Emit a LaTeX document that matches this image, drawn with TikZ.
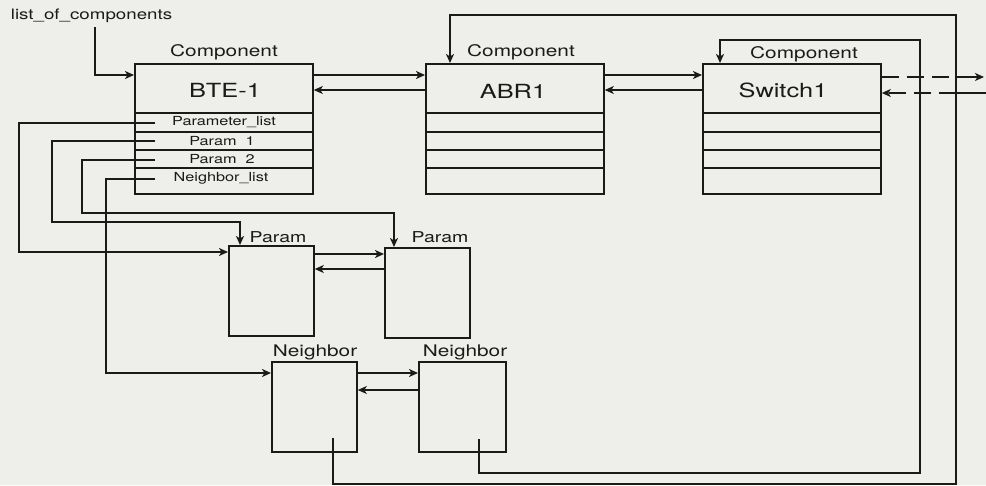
\documentclass[tikz,border=0pt]{standalone}
\usepackage{fontspec}
\setmainfont{TeX Gyre Heros}[FakeStretch=1.3]
\usetikzlibrary{arrows.meta}
\definecolor{bgcol}{HTML}{EEEEEB}
\definecolor{ink}{HTML}{1A1A1A}
\begin{document}
\begin{tikzpicture}[x=1pt,y=-1pt,line width=1.8pt,draw=ink,
  arr/.style={-{Stealth[length=9pt,width=8pt,inset=2.5pt]}},
  box/.style={draw=ink,inner sep=0pt,anchor=north west},
  cbox/.style={box,minimum width=178pt,minimum height=130pt},
  pbox/.style={box,minimum width=85pt,minimum height=90pt},
  lbl/.style={inner sep=0pt,text=ink},
  comptxt/.style={lbl,font=\fontsize{16}{18}\selectfont},
  titletxt/.style={lbl,font=\fontsize{19.5}{22}\selectfont},
  rowtxt/.style={lbl,font=\fontsize{12.5}{14}\selectfont},
  partxt/.style={lbl,font=\fontsize{15}{17}\selectfont},
  neitxt/.style={lbl,font=\fontsize{16}{18}\selectfont},
  dsh/.style={dash pattern=on 17pt off 8pt}]
\fill[bgcol] (0,0) rectangle (986,485);
\useasboundingbox (0,0) rectangle (986,485);

% component boxes
\node[cbox] (bte) at (134,63) {};
\node[cbox] (abr) at (425,63) {};
\node[cbox] (sw) at (702,63) {};
\foreach \xa/\xb in {134/312,425/603,702/880}{
  \foreach \yy in {113,132,150,168}{
    \draw (\xa,\yy) -- (\xb,\yy);
  }
}
\node[comptxt] (c1) at (224,52) {Component};
\node[comptxt] (c2) at (521,52) {Component};
\node[comptxt] (c3) at (804,54) {Component};
\node[titletxt] (t1) at (225,90) {BTE-1};
\node[titletxt] (t2) at (513,91) {ABR1};
\node[titletxt] (t3) at (783,90) {Switch1};
\node[rowtxt] (r1) at (224,122) {Parameter\_list};
\node[rowtxt] (r2) at (222,141) {Param\ \ 1};
\node[rowtxt] (r3) at (222,159) {Param\ \ 2};
\node[rowtxt] (r4) at (221,178) {Neighbor\_list};

% param and neighbor boxes
\node[pbox] (p1) at (228,245) {};
\node[pbox] (p2) at (384,247) {};
\node[pbox] (n1) at (271,361) {};
\node[pbox,minimum width=87pt] (n2) at (418,361) {};
\node[partxt] (pl1) at (278,237) {Param};
\node[partxt] (pl2) at (440,237) {Param};
\node[neitxt] (nl1) at (315,352) {Neighbor};
\node[neitxt] (nl2) at (465,352) {Neighbor};

% list_of_components
\node[lbl,font=\fontsize{14.4}{16}\selectfont,anchor=west] (loc) at (10,16) {list\_of\_components};
\coordinate (locs) at (95,27);
\draw[arr] (locs) |- (bte.west |- 0,75);

% component chain
\draw[arr] (bte.east |- 0,75) -- (abr.west |- 0,75);
\draw[arr] (abr.west |- 0,90) -- (bte.east |- 0,90);
\draw[arr] (abr.east |- 0,75) -- (sw.west |- 0,75);
\draw[arr] (sw.west |- 0,90) -- (abr.east |- 0,90);

% to the right
\coordinate (vo1) at (956,77);
\coordinate (vo2) at (956,93);
\coordinate (outA) at (984,77);
\coordinate (outB) at (986,93);
\draw[dsh] (sw.east |- 0,77) -- (vo1);
\draw[arr] (vo1) -- (outA);
\draw (outB) -- (vo2);
\draw[dsh,arr] (vo2) -- (sw.east |- 0,93);

% row links
\coordinate (s1) at (155,123);
\coordinate (s2) at (155,141);
\coordinate (s3) at (155,160);
\coordinate (s4) at (155,179);
\draw[arr] (s1) -- (19,123) |- (p1.west |- 0,252);
\draw[arr] (s2) -- (52,141) |- (240,222) -- (p1.north -| 240,0);
\draw[arr] (s3) -- (82,160) |- (394,213) -- (p2.north -| 394,0);
\draw[arr] (s4) -- (106,179) |- (n1.west |- 0,373);

% param links
\draw[arr] (p1.east |- 0,254) -- (p2.west |- 0,254);
\draw[arr] (p2.west |- 0,269) -- (p1.east |- 0,269);
% neighbor links
\draw[arr] (n1.east |- 0,373) -- (n2.west |- 0,373);
\draw[arr] (n2.west |- 0,390) -- (n1.east |- 0,390);

% loops back
\coordinate (n1s) at (333,438);
\coordinate (n2s) at (479,439);
\draw[arr] (n1s) |- (956,484) |- (450,15) -- (abr.north -| 450,0);
\draw[arr] (n2s) |- (920,473) |- (720,40) -- (sw.north -| 720,0);
\end{tikzpicture}
\end{document}
